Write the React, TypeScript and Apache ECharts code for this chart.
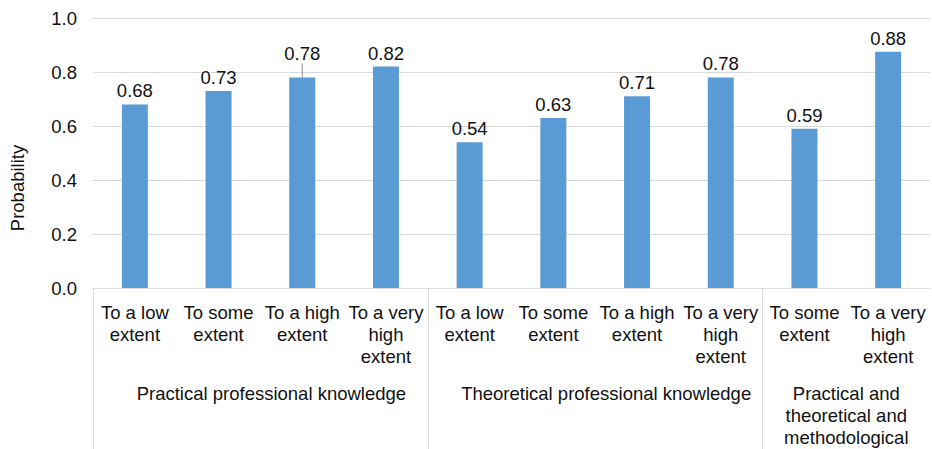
import React, { useEffect, useRef } from "react";
import * as echarts from "echarts";

const categories = [
  "To a low\nextent",
  "To some\nextent",
  "To a high\nextent",
  "To a very\nhigh\nextent",
  "To a low\nextent",
  "To some\nextent",
  "To a high\nextent",
  "To a very\nhigh\nextent",
  "To some\nextent",
  "To a very\nhigh\nextent",
];
const values = [0.68, 0.73, 0.78, 0.82, 0.54, 0.63, 0.71, 0.78, 0.59, 0.875];
const groupNames = [
  "Practical professional knowledge",
  "Theoretical professional knowledge",
  "Practical and\ntheoretical and\nmethodological",
];
const groupSizes = [4, 4, 2];
const yTicks = [0, 0.2, 0.4, 0.6, 0.8, 1.0];

const FONT = "Liberation Sans, Arial, sans-serif";
const FS = 18.5;
const TEXT = "#111111";
const GRID = "#d9d9d9";

export default function App() {
  const ref = useRef<HTMLDivElement>(null);
  useEffect(() => {
    if (!ref.current) return;
    const chart = echarts.init(ref.current, null, { renderer: "svg" });

    const bounds: number[] = [];
    const centers: number[] = [];
    let acc = 0;
    groupSizes.forEach((s) => {
      bounds.push(acc);
      centers.push(acc + s / 2);
      acc += s;
    });

    chart.setOption({
      animation: false,
      grid: { left: 91, right: 2, top: 18, bottom: 161, containLabel: false },
      xAxis: [
        {
          type: "category",
          data: categories,
          position: "bottom",
          axisLine: { show: true, lineStyle: { color: GRID, width: 1 } },
          axisTick: { show: false },
          axisLabel: {
            interval: 0,
            margin: 13,
            fontFamily: FONT,
            fontSize: FS,
            lineHeight: 22,
            color: TEXT,
          },
        },
        {
          type: "value",
          min: 0,
          max: categories.length,
          position: "bottom",
          axisLine: { show: false },
          splitLine: { show: false },
          axisTick: {
            show: true,
            customValues: bounds,
            length: 170,
            lineStyle: { color: GRID, width: 1 },
          },
          axisLabel: {
            show: true,
            customValues: centers,
            margin: 94,
            fontFamily: FONT,
            fontSize: FS,
            lineHeight: 22,
            color: TEXT,
            rich: {
              s: {
                fontFamily: FONT,
                fontSize: FS,
                lineHeight: 22,
                color: TEXT,
                padding: [0, 0, 0, 22],
              },
            },
            formatter: (v: number) => {
              const i = centers.findIndex((c) => Math.abs(c - v) < 1e-6);
              if (i < 0) return "";
              const name = groupNames[i];
              return name.indexOf("\n") >= 0 ? name : "{s|" + name + "}";
            },
          },
        },
      ],
      yAxis: {
        type: "value",
        min: 0,
        max: 1,
        interval: 0.2,
        name: "Probability",
        nameLocation: "middle",
        nameGap: 66,
        nameTextStyle: {
          fontFamily: FONT,
          fontSize: FS,
          color: TEXT,
          padding: [0, 70, 0, 0],
        },
        axisLine: { show: false },
        axisTick: { show: false },
        splitLine: { lineStyle: { color: GRID, width: 1 } },
        axisLabel: {
          margin: 16,
          fontFamily: FONT,
          fontSize: FS,
          color: TEXT,
          formatter: (v: number) => {
            const t = yTicks.find((x) => Math.abs(x - v) < 1e-6);
            return (t !== undefined ? t : v).toFixed(1);
          },
        },
      },
      series: [
        {
          type: "bar",
          xAxisIndex: 0,
          barWidth: 26,
          itemStyle: { color: "#5B9BD5" },
          data: values.map((v, i) =>
            i === 2
              ? { value: v, labelLine: { show: true, lineStyle: { color: "#8c8c8c", width: 1 } } }
              : v
          ),
          label: {
            show: true,
            position: "top",
            distance: 4,
            fontFamily: FONT,
            fontSize: FS,
            color: TEXT,
            formatter: (p: any) => Number(p.value).toFixed(2),
          },
          labelLayout: (p: any) => (p.dataIndex === 2 ? { dy: -10 } : {}),
        },
      ],
    });
    return () => chart.dispose();
  }, []);
  return (
    <div
      ref={ref}
      style={{ position: "absolute", left: 0, top: 0, width: 932, height: 449 }}
    />
  );
}
